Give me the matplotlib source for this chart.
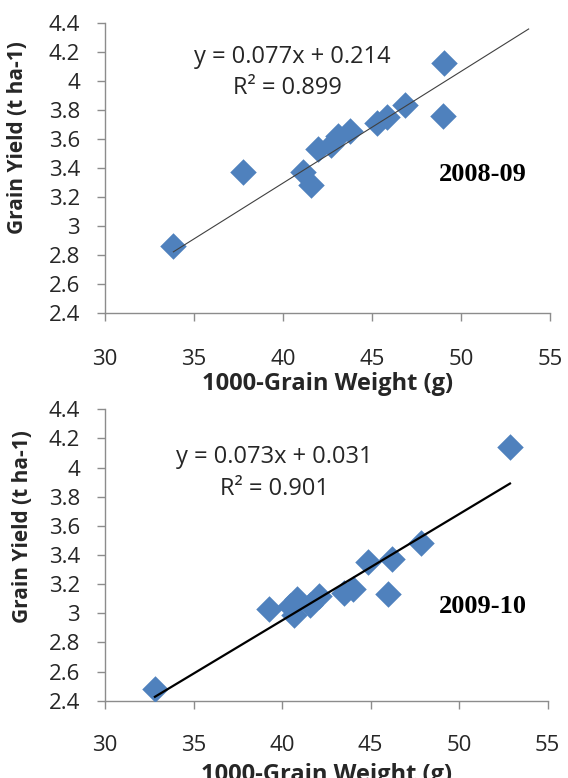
import matplotlib
matplotlib.use("Agg")
import matplotlib.pyplot as plt
import numpy as np

plt.rcParams['font.family'] = ['Open Sans', 'DejaVu Sans']

# 2008-09 data
tgw_0809 = [33.84, 37.73, 41.14, 41.60, 41.98, 42.70, 43.10, 43.76, 45.26, 45.82, 46.88, 49.01, 49.04]
gy_0809 = [2.86, 3.37, 3.37, 3.28, 3.53, 3.56, 3.62, 3.65, 3.71, 3.75, 3.83, 3.76, 4.12]

# 2009-10 data
tgw_0910 = [32.82, 39.24, 40.45, 40.69, 40.82, 41.57, 42.10, 43.50, 43.98, 44.87, 46.00, 46.22, 47.84, 52.87]
gy_0910 = [2.48, 3.03, 3.05, 2.99, 3.10, 3.06, 3.12, 3.14, 3.17, 3.35, 3.13, 3.37, 3.48, 4.14]

seasons = ['2008-09', '2009-10']
# trendline coefficients as printed on the chart
slopes = [0.077, 0.073]
intercepts = [0.214, 0.031]
r2_values = [0.899, 0.901]
trend_end = [53.8, 52.87]

xticks = [30, 35, 40, 45, 50, 55]
yticks = [2.4, 2.6, 2.8, 3.0, 3.2, 3.4, 3.6, 3.8, 4.0, 4.2, 4.4]
ytick_labels = ['2.4', '2.6', '2.8', '3', '3.2', '3.4', '3.6', '3.8', '4', '4.2', '4.4']

W, H = 568, 778
fig = plt.figure(figsize=(W / 100, H / 100), dpi=100)

# axes boxes in pixels: left, top, right, bottom
boxes = [(105, 22.7, 550, 312.7), (105, 409.3, 547.7, 700.7)]
xpads = [20, 19]
eq_pos = [((0.42, 0.882), (0.411, 0.775)), ((0.382, 0.836), (0.384, 0.727))]
season_pos = [(0.849, 0.475), (0.854, 0.322)]
ylab_pos = [(18, 138), (23, 527)]
xlab_y = [384, 775]
trend_style = [dict(color='#404040', lw=0.8), dict(color='black', lw=1.6)]

data = [(tgw_0809, gy_0809), (tgw_0910, gy_0910)]

for i, (x, y) in enumerate(data):
    l, t, r, b = boxes[i]
    ax = fig.add_axes([l / W, 1 - b / H, (r - l) / W, (b - t) / H])
    ax.scatter(x, y, marker='D', s=13.5 ** 2, color='#4F81BD', linewidths=0, zorder=3)

    # linear trendline
    xx = np.array([min(x), trend_end[i]])
    ax.plot(xx, slopes[i] * xx + intercepts[i], zorder=4, **trend_style[i])

    ax.set_xlim(30, 55)
    ax.set_ylim(2.4, 4.4)
    ax.set_xticks(xticks)
    ax.set_yticks(yticks)
    ax.set_yticklabels(ytick_labels)
    for s in ['top', 'right']:
        ax.spines[s].set_visible(False)
    for s in ['left', 'bottom']:
        ax.spines[s].set_color('#8c8c8c')
        ax.spines[s].set_linewidth(1.0)
    ax.tick_params(axis='both', direction='out', length=6, width=1.0, color='#8c8c8c',
                   labelsize=16, labelcolor='#262626')
    ax.tick_params(axis='y', pad=12)
    ax.tick_params(axis='x', pad=xpads[i])

    (ex, ey), (rx, ry) = eq_pos[i]
    ax.text(ex, ey, f'y = {slopes[i]:.3f}x + {intercepts[i]:.3f}', transform=ax.transAxes,
            ha='center', va='center', fontsize=17, color='#262626')
    ax.text(rx, ry, f'R² = {r2_values[i]:.3f}', transform=ax.transAxes,
            ha='center', va='center', fontsize=17, color='#262626')
    sx, sy = season_pos[i]
    ax.text(sx, sy, seasons[i], transform=ax.transAxes, ha='center', va='center',
            fontsize=19, fontweight='bold', family='Liberation Serif')

    yx, yy = ylab_pos[i]
    fig.text(yx / W, 1 - yy / H, 'Grain Yield (t ha-1)', rotation=90, ha='center', va='center',
             fontsize=15, fontweight='bold', color='#262626')
    fig.text((l + r) / 2 / W, 1 - xlab_y[i] / H, '1000-Grain Weight (g)', ha='center', va='center',
             fontsize=17, fontweight='bold', color='#262626')

fig.savefig('out.png', dpi=100)
